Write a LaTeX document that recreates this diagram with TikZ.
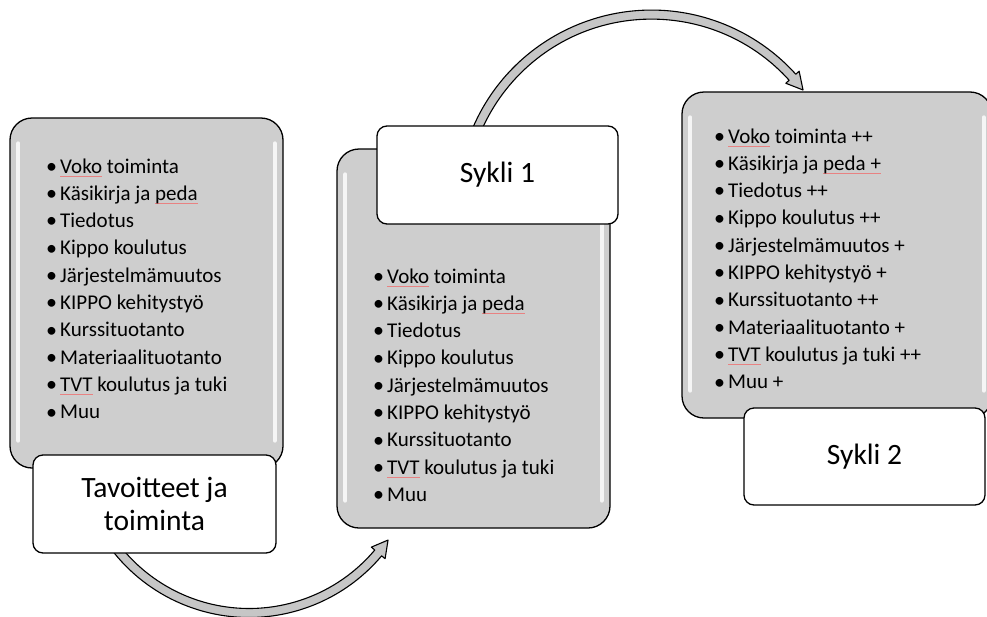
\documentclass[tikz,border=0pt]{standalone}
\usepackage{fontspec}
\setmainfont{Carlito}
\usetikzlibrary{calc}

\definecolor{panelgray}{RGB}{206,206,206}
\definecolor{arrowgray}{RGB}{198,198,198}
\definecolor{spellred}{RGB}{232,130,130}

% spell-check style mark under a word
\newcommand\spellmark[1]{\setbox0\hbox{#1}\rlap{\color{spellred}\rule[-3.5pt]{\wd0}{0.7pt}}\box0\relax}
% list bullet
\newcommand\itembullet{\makebox[12pt][l]{\hspace{-2pt}\fontsize{22}{22}\selectfont\raisebox{-0.3pt}{•}}}

\tikzset{
  panel/.style={draw=black, line width=1.3pt, fill=panelgray, rounded corners=22pt, inner sep=0pt},
  tag/.style={draw=black, line width=1.3pt, fill=white, rounded corners=10pt,
              font=\fontsize{29.5}{33}\selectfont, align=center, inner sep=0pt},
  item/.style={anchor=base west, inner sep=0pt, font=\fontsize{21}{24}\selectfont},
  shine/.style={white, line width=4pt, line cap=round, opacity=0.8},
  curvedarrow/.style={draw=black, line width=1.1pt, fill=arrowgray, line join=round},
}

\begin{document}
\begin{tikzpicture}[x=1pt, y=-1pt]
  \useasboundingbox (0,0) rectangle (987,616);

  % curved block arrows
  \begin{scope}[shift={(249.1,444.2)}]
    \filldraw[curvedarrow] (145:173.3) arc[start angle=145, end angle=40.1, radius=173.3]
      -- (40.1:177.8) -- (34.6:168.8) -- (40.1:159.8) -- (40.1:164.3)
      arc[start angle=40.1, end angle=145, radius=164.3] -- cycle;
  \end{scope}
  \begin{scope}[shift={(651.5,204.6)}]
    \filldraw[curvedarrow] (-158:194.5) arc[start angle=-158, end angle=-42.1, radius=194.5]
      -- (-42.1:199) -- (-37.1:190) -- (-42.1:181) -- (-42.1:185.5)
      arc[start angle=-42.1, end angle=-158, radius=185.5] -- cycle;
  \end{scope}

  % grey panels
  \node[panel, minimum width=273pt, minimum height=350pt] (p1) at (146.5,293) {};
  \node[panel, minimum width=273pt, minimum height=379pt] (p2) at (473.5,338.5) {};
  \node[panel, minimum width=310pt, minimum height=326pt] (p3) at (837,255) {};

  % glossy edge highlights
  \foreach \p in {p1,p2,p3} {
    \draw[shine] ([xshift=9pt,yshift=-26pt]\p.north west) -- ([xshift=9pt,yshift=28pt]\p.south west);
    \draw[shine] ([xshift=-9pt,yshift=-26pt]\p.north east) -- ([xshift=-9pt,yshift=28pt]\p.south east);
  }

  % bullet lists
  \foreach \t [count=\i from 0] in {\spellmark{Voko} toiminta, Käsikirja ja \spellmark{peda}, Tiedotus,
      Kippo koulutus, Järjestelmämuutos, KIPPO kehitystyö, Kurssituotanto, Materiaalituotanto,
      \spellmark{TVT} koulutus ja tuki, Muu}
    \node[item] (a\i) at (48, 173+27.3*\i) {\itembullet\t};

  \foreach \t [count=\i from 0] in {\spellmark{Voko} toiminta, Käsikirja ja \spellmark{peda}, Tiedotus,
      Kippo koulutus, Järjestelmämuutos, KIPPO kehitystyö, Kurssituotanto,
      \spellmark{TVT} koulutus ja tuki, Muu}
    \node[item] (b\i) at (375, 283+27.3*\i) {\itembullet\t};

  \foreach \t [count=\i from 0] in {\spellmark{Voko} toiminta ++, Käsikirja ja \spellmark{peda +}, Tiedotus ++,
      Kippo koulutus ++, Järjestelmämuutos +, KIPPO kehitystyö +, Kurssituotanto ++, Materiaalituotanto +,
      \spellmark{TVT} koulutus ja tuki ++, Muu +}
    \node[item] (c\i) at (716, 143+27.3*\i) {\itembullet\t};

  % title tags
  \node[tag, minimum width=243pt, minimum height=98pt] (t1) at (154.5,504) {Tavoitteet ja\\toiminta};
  \node[tag, minimum width=241pt, minimum height=98pt] (t2) at (497.5,175) {Sykli 1};
  \node[tag, minimum width=241pt, minimum height=97pt] (t3) at (864.5,456.5) {Sykli 2};
\end{tikzpicture}
\end{document}
